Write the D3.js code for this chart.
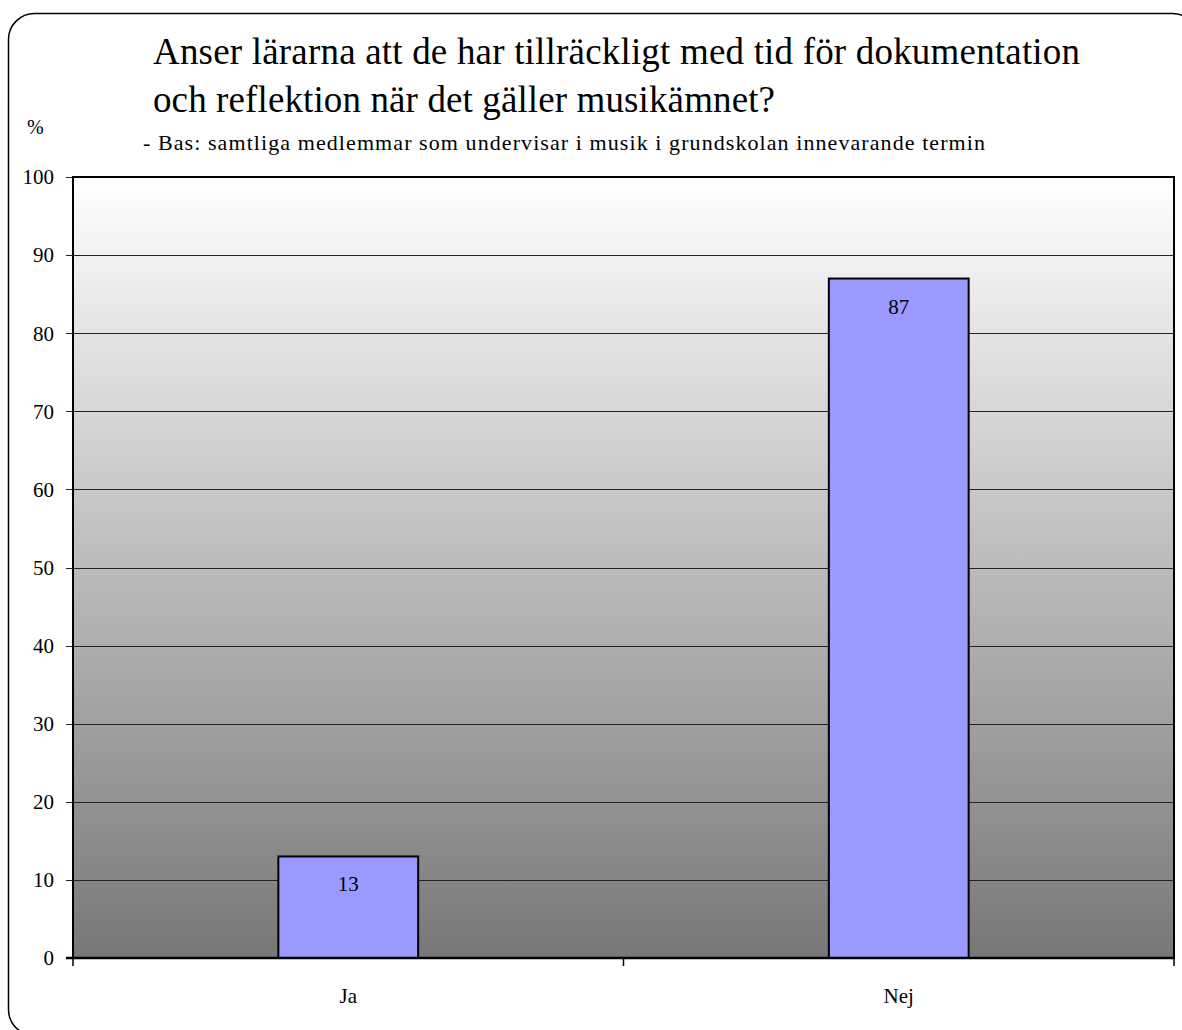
<!DOCTYPE html>
<html>
<head>
<meta charset="utf-8">
<script src="https://cdn.jsdelivr.net/npm/d3@7"></script>
<style>
    body { margin: 0; background: #fff; }
</style>
</head>
<body>
<svg id="chart" width="1182" height="1030"></svg>
<script>
// Chart data
var categories = ["Ja", "Nej"];
var percentValues = [13, 87];
var yTicks = [0, 10, 20, 30, 40, 50, 60, 70, 80, 90, 100];
var titleLines = [
    "Anser lärarna att de har tillräckligt med tid för dokumentation",
    "och reflektion när det gäller musikämnet?"
];
var subtitle = "- Bas: samtliga medlemmar som undervisar i musik i grundskolan innevarande termin";
var yAxisUnit = "%";

var FONT = "'Liberation Serif', 'Times New Roman', serif";
var svg = d3.select("#chart");
var margin = {left: 73, top: 177, right: 1174, bottom: 958};

// outer rounded frame
svg.append("rect")
    .attr("x", 8.5)
    .attr("y", 13.5)
    .attr("width", 1190)
    .attr("height", 1022)
    .attr("rx", 26)
    .attr("fill", "#fff")
    .attr("stroke", "#000")
    .attr("stroke-width", 1.5);

// plot background gradient
var defs = svg.append("defs");
var grad = defs.append("linearGradient")
    .attr("id", "bgGrad")
    .attr("x1", 0).attr("y1", 0)
    .attr("x2", 0).attr("y2", 1);
grad.append("stop").attr("offset", "0%").attr("stop-color", "#ffffff");
grad.append("stop").attr("offset", "100%").attr("stop-color", "#777777");

var xScale = d3.scaleBand()
    .domain(categories)
    .range([margin.left, margin.right])
    .paddingInner(0.746)
    .paddingOuter(0.373);

var xTickScale = d3.scaleBand()
    .domain(categories)
    .range([margin.left, margin.right]);

var yScale = d3.scaleLinear()
    .domain([0, 100])
    .range([margin.bottom, margin.top]);

svg.append("rect")
    .attr("x", margin.left)
    .attr("y", margin.top)
    .attr("width", margin.right - margin.left)
    .attr("height", margin.bottom - margin.top)
    .attr("fill", "url(#bgGrad)");

// gridlines
svg.append("g")
    .attr("class", "grid")
    .selectAll("line")
    .data(yTicks)
    .enter()
    .append("line")
    .attr("x1", margin.left - 7)
    .attr("x2", margin.right)
    .attr("y1", function (d) { return Math.round(yScale(d)) + 0.5; })
    .attr("y2", function (d) { return Math.round(yScale(d)) + 0.5; })
    .attr("stroke", "#222")
    .attr("stroke-width", 1);

// y tick labels
svg.append("g")
    .selectAll("text")
    .data(yTicks)
    .enter()
    .append("text")
    .attr("x", 54)
    .attr("y", function (d) { return yScale(d); })
    .attr("dy", "0.35em")
    .attr("text-anchor", "end")
    .attr("font-family", FONT)
    .attr("font-size", 21)
    .text(function (d) { return d; });

// bars
svg.selectAll(".bar")
    .data(percentValues)
    .enter()
    .append("rect")
    .attr("class", "bar")
    .attr("x", function (d, i) { return xScale(categories[i]); })
    .attr("y", function (d) { return yScale(d); })
    .attr("width", xScale.bandwidth())
    .attr("height", function (d) { return yScale(0) - yScale(d); })
    .attr("fill", "#9999ff")
    .attr("stroke", "#000")
    .attr("stroke-width", 2);

// value labels
svg.selectAll(".val")
    .data(percentValues)
    .enter()
    .append("text")
    .attr("class", "val")
    .attr("x", function (d, i) { return xScale(categories[i]) + xScale.bandwidth() / 2; })
    .attr("y", function (d) { return yScale(d) + 35; })
    .attr("text-anchor", "middle")
    .attr("font-family", FONT)
    .attr("font-size", 21)
    .text(function (d) { return d; });

// plot border
svg.append("rect")
    .attr("x", margin.left)
    .attr("y", margin.top)
    .attr("width", margin.right - margin.left)
    .attr("height", margin.bottom - margin.top)
    .attr("fill", "none")
    .attr("stroke", "#000")
    .attr("stroke-width", 2);

// x axis line + ticks
svg.append("line")
    .attr("x1", margin.left - 7)
    .attr("x2", margin.right)
    .attr("y1", margin.bottom)
    .attr("y2", margin.bottom)
    .attr("stroke", "#000")
    .attr("stroke-width", 2.5);

var xTickPos = categories.map(function (c) { return xTickScale(c); }).concat([margin.right]);
svg.append("g")
    .selectAll("line")
    .data(xTickPos)
    .enter()
    .append("line")
    .attr("x1", function (d) { return d; })
    .attr("x2", function (d) { return d; })
    .attr("y1", margin.bottom)
    .attr("y2", margin.bottom + 8)
    .attr("stroke", "#000")
    .attr("stroke-width", 1.5);

// category labels
svg.append("g")
    .selectAll("text")
    .data(categories)
    .enter()
    .append("text")
    .attr("x", function (d) { return xScale(d) + xScale.bandwidth() / 2; })
    .attr("y", 1003)
    .attr("text-anchor", "middle")
    .attr("font-family", FONT)
    .attr("font-size", 21)
    .text(function (d) { return d; });

// titles (the original is rendered with loose letter spacing)
var titleWidths = [927, 622];
svg.append("g")
    .selectAll("text")
    .data(titleLines)
    .enter()
    .append("text")
    .attr("x", 153)
    .attr("y", function (d, i) { return 64 + i * 48; })
    .attr("font-family", FONT)
    .attr("font-size", 37)
    .attr("textLength", function (d, i) { return titleWidths[i]; })
    .attr("lengthAdjust", "spacing")
    .text(function (d) { return d; });

svg.append("text")
    .attr("x", 143)
    .attr("y", 150)
    .attr("font-family", FONT)
    .attr("font-size", 22)
    .attr("textLength", 842)
    .attr("lengthAdjust", "spacing")
    .text(subtitle);

svg.append("text")
    .attr("x", 27)
    .attr("y", 134)
    .attr("font-family", FONT)
    .attr("font-size", 20)
    .text(yAxisUnit);
</script>
</body>
</html>
